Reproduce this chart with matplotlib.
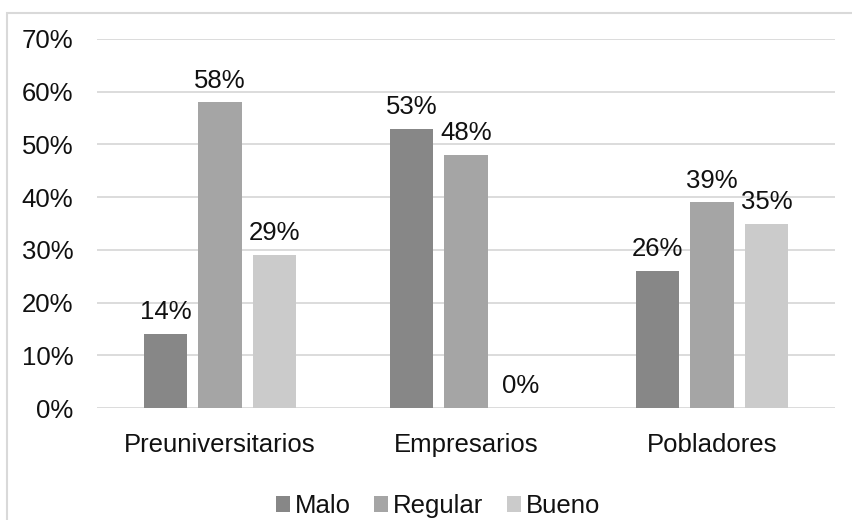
import matplotlib.pyplot as plt
import numpy as np
from matplotlib.patches import Patch, Rectangle
from matplotlib.ticker import PercentFormatter

plt.rcParams['font.family'] = ['Liberation Sans', 'DejaVu Sans']

categories = ['Preuniversitarios', 'Empresarios', 'Pobladores']
series_names = ['Malo', 'Regular', 'Bueno']
malo = [14, 53, 26]
regular = [58, 48, 39]
bueno = [29, 0, 35]
series_values = [malo, regular, bueno]
colors = ['#878787', '#a5a5a5', '#cbcbcb']

W, H = 853, 520
FS = 18.5
TXT = '#111111'

fig = plt.figure(figsize=(W / 100, H / 100), dpi=100)
fig.patches.append(Rectangle((7 / W, -0.1), 1.2, 1 - 13 / H + 0.1, transform=fig.transFigure,
                             fill=False, edgecolor='#d9d9d9', linewidth=1.5))

ax = fig.add_axes([97 / W, (H - 408) / H, 738 / W, (408 - 39) / H])

x = np.arange(len(categories))
width = 0.175
step = 0.222
for i, (name, vals, col) in enumerate(zip(series_names, series_values, colors)):
    pos = x + (i - 1) * step
    bars = ax.bar(pos, vals, width=width, color=col, label=name, zorder=3)
    for b, v in zip(bars, vals):
        ax.annotate(f'{v}%', (b.get_x() + b.get_width() / 2, v), xytext=(0, 7),
                    textcoords='offset points', ha='center', va='bottom',
                    fontsize=FS, color=TXT)

ax.set_xlim(-0.5, 2.5)
ax.set_ylim(0, 70)
ax.set_yticks(np.arange(0, 71, 10))
ax.yaxis.set_major_formatter(PercentFormatter(decimals=0))
ax.set_xticks(x)
ax.set_xticklabels(categories)
ax.tick_params(axis='both', length=0, labelsize=FS, colors=TXT)
ax.tick_params(axis='y', pad=17)
ax.tick_params(axis='x', pad=18)
ax.grid(axis='y', color='#d9d9d9', linewidth=1.3, zorder=0)
for s in ax.spines.values():
    s.set_visible(False)

handles = [Patch(facecolor=c, edgecolor='none', label=n) for c, n in zip(colors, series_names)]
fig.legend(handles=handles, loc='center', bbox_to_anchor=(438 / W, 1 - 506 / H), ncol=3,
           frameon=False, fontsize=FS, handlelength=0.55, handleheight=0.55,
           handletextpad=0.2, columnspacing=0.9, labelcolor=TXT)

fig.savefig('out.png', dpi=100)
